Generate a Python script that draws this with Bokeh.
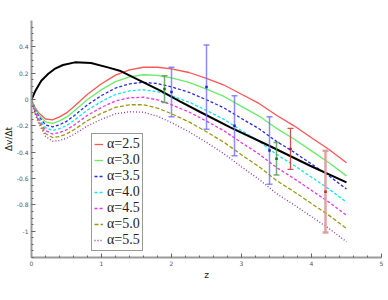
from bokeh.plotting import figure
from bokeh.models import Range1d, FixedTicker
from bokeh.embed import file_html
from bokeh.resources import INLINE

# ---- data ----
z = [0, 0.05, 0.1, 0.2, 0.3, 0.4, 0.5, 0.6, 0.8, 1.0, 1.2, 1.4, 1.6, 1.8, 2.0,
     2.25, 2.5, 2.75, 3.0, 3.25, 3.5, 3.75, 4.0, 4.25, 4.5]
a25 = [0, -0.06, -0.10, -0.148, -0.154, -0.132, -0.102, -0.057, 0.04, 0.12, 0.185, 0.225,
       0.245, 0.245, 0.232, 0.205, 0.16, 0.11, 0.04, -0.03, -0.12, -0.2, -0.29, -0.38, -0.48]
a30 = [0, -0.068, -0.113, -0.170, -0.181, -0.162, -0.134, -0.092, 0.0, 0.075, 0.136, 0.172,
       0.188, 0.183, 0.164, 0.130, 0.079, 0.023, -0.052, -0.126, -0.219, -0.30, -0.39, -0.48, -0.58]
a35 = [0, -0.076, -0.126, -0.192, -0.208, -0.192, -0.166, -0.127, -0.04, 0.03, 0.087, 0.119,
       0.131, 0.121, 0.096, 0.055, -0.002, -0.064, -0.144, -0.222, -0.318, -0.40, -0.49, -0.58, -0.68]
a40 = [0, -0.084, -0.139, -0.214, -0.235, -0.222, -0.198, -0.162, -0.08, -0.015, 0.038, 0.066,
       0.074, 0.059, 0.028, -0.02, -0.083, -0.151, -0.236, -0.318, -0.417, -0.50, -0.59, -0.68, -0.78]
a45 = [0, -0.092, -0.152, -0.236, -0.262, -0.252, -0.230, -0.197, -0.12, -0.06, -0.011, 0.013,
       0.017, -0.003, -0.04, -0.095, -0.164, -0.238, -0.328, -0.414, -0.516, -0.60, -0.69, -0.78, -0.88]
a50 = [0, -0.10, -0.165, -0.258, -0.289, -0.282, -0.262, -0.232, -0.16, -0.105, -0.06, -0.04,
       -0.04, -0.065, -0.108, -0.17, -0.245, -0.325, -0.42, -0.51, -0.615, -0.70, -0.79, -0.88, -0.98]
a55 = [0, -0.108, -0.178, -0.28, -0.316, -0.312, -0.294, -0.267, -0.20, -0.15, -0.109, -0.093,
       -0.097, -0.127, -0.176, -0.245, -0.326, -0.412, -0.512, -0.606, -0.714, -0.80, -0.89, -0.98, -1.08]
series = [("α=2.5", a25), ("α=3.0", a30), ("α=3.5", a35), ("α=4.0", a40),
          ("α=4.5", a45), ("α=5.0", a50), ("α=5.5", a55)]

zk = [0, 0.05, 0.14, 0.24, 0.33, 0.45, 0.62, 0.85, 1.09, 1.26, 1.55, 1.84, 2.12, 2.41,
      2.84, 3.41, 3.98, 4.5]
black = [0, 0.06, 0.143, 0.195, 0.232, 0.262, 0.282, 0.277, 0.244, 0.219, 0.143, 0.067,
         -0.015, -0.095, -0.212, -0.355, -0.503, -0.63]

eb_z = [1.9, 2.0, 2.5, 2.9, 3.4, 3.5, 3.7, 4.2]
eb_y = [0.079, 0.057, 0.094, -0.2, -0.387, -0.45, -0.375, -0.70]
eb_err = [0.101, 0.188, 0.32, 0.228, 0.256, 0.124, 0.155, 0.31]
eb_group = ["g", "b", "b", "b", "b", "g", "r", "lr"]

y_ticks = [-1, -0.8, -0.6, -0.4, -0.2, 0, 0.2, 0.4]
y_labels = ["-1", "-0.8", "-0.6", "-0.4", "-0.2", "0", "0.2", "0.4"]
x_ticks = [0, 1, 2, 3, 4, 5]

# ---- styles ----
line_styles = [
    ("#ff5555", "solid"),
    ("#66ee66", "solid"),
    ("#2a2aee", "3 2"),
    ("#11e6ee", "3 2"),
    ("#ee33ee", "3 2"),
    ("#999911", "4 2"),
    ("#993399", "1 2"),
]
eb_style = {
    "g": ("#4f9a4f", 1.5, 0.8, "#1f6a1f"),
    "b": ("#7070ff", 1.5, 0.8, "#2020dd"),
    "r": ("#c84444", 1.3, 0.9, "#a02020"),
    "lr": ("#e09898", 2.5, 0.9, "#b03030"),
}

p = figure(width=388, height=300, output_backend="svg", toolbar_location=None,
           x_range=Range1d(0, 5), y_range=Range1d(-1.2, 0.6),
           min_border_left=20, min_border_right=7, min_border_top=20, min_border_bottom=43)
p.background_fill_color = "white"
p.border_fill_color = "white"
p.outline_line_color = None
p.grid.visible = False

for (label, vals), (col, dash) in zip(series, line_styles):
    p.line(z, vals, line_color=col, line_width=1.3, line_dash=dash, legend_label=label)

p.line(zk, black, line_color="black", line_width=2)

for g, (col, w, a, mcol) in eb_style.items():
    xs = [x for x, gg in zip(eb_z, eb_group) if gg == g]
    ys = [y for y, gg in zip(eb_y, eb_group) if gg == g]
    es = [e for e, gg in zip(eb_err, eb_group) if gg == g]
    lo = [y - e for y, e in zip(ys, es)]
    hi = [y + e for y, e in zip(ys, es)]
    p.segment(x0=xs, y0=lo, x1=xs, y1=hi, line_color=col, line_width=w, line_alpha=a)
    p.scatter(xs + xs, lo + hi, marker="dash", size=6, line_color=col, line_width=w, line_alpha=a)
    p.scatter(xs, ys, marker="square", size=2.5, fill_color=mcol, line_color=None)

# axes
p.xaxis.ticker = FixedTicker(ticks=x_ticks, minor_ticks=[i * 0.2 for i in range(26)])
p.yaxis.ticker = FixedTicker(ticks=y_ticks, minor_ticks=[-1.2 + i * 0.05 for i in range(37)])
p.yaxis.major_label_overrides = {t: l for t, l in zip(y_ticks, y_labels)}
for ax in (p.xaxis, p.yaxis):
    ax.axis_line_color = "#9a9a9a"
    ax.axis_line_width = 2
    ax.major_tick_in = 4
    ax.major_tick_out = 0
    ax.minor_tick_in = 2
    ax.minor_tick_out = 0
    ax.major_tick_line_color = "#666666"
    ax.minor_tick_line_color = "#666666"
    ax.major_label_text_font = "DejaVu Sans"
    ax.major_label_text_font_size = "6px"
    ax.major_label_text_color = "#555555"
    ax.axis_label_text_font = "DejaVu Sans"
    ax.axis_label_text_font_style = "normal"
    ax.axis_label_text_font_size = "9px"
    ax.axis_label_text_color = "#222222"
p.xaxis.axis_label = "z"
p.yaxis.axis_label = "Δv/Δt"
p.xaxis.major_label_standoff = 3
p.xaxis.axis_label_standoff = 1
p.yaxis.major_label_standoff = 3
p.yaxis.axis_label_standoff = 0

# legend
lg = p.legend[0]
lg.location = (60, 6)
lg.label_text_font = "Liberation Serif"
lg.label_text_font_size = "14px"
lg.label_text_color = "#222222"
lg.glyph_width = 9
lg.glyph_height = 12
lg.label_height = 12
lg.label_standoff = 4
lg.spacing = 0
lg.padding = 2
lg.margin = 0
lg.border_line_color = "#333333"
lg.border_line_width = 1
lg.background_fill_color = "white"
lg.background_fill_alpha = 1

open("out.html", "w").write(file_html(p, INLINE))
